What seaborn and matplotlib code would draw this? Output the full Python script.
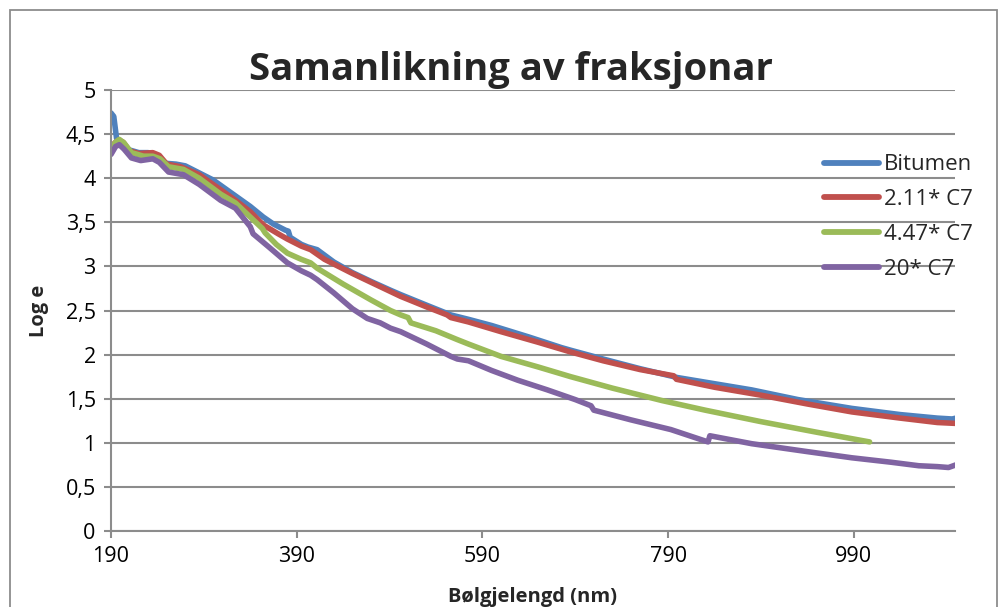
import numpy as np
import pandas as pd
import matplotlib
matplotlib.use("Agg")
import matplotlib.pyplot as plt
import seaborn as sns
from matplotlib.patches import Rectangle

# ---------------- data ----------------
bitumen_x = [190, 193, 196, 200, 210, 220, 230, 240, 248, 260, 270, 285, 300, 308, 324, 340, 354, 365, 378, 381,
             383, 395, 402, 412, 430, 450, 470, 491, 502, 530, 556, 575, 600, 640, 675, 685, 720, 760, 800, 840,
             880, 930, 988, 1040, 1080, 1096, 1100]
bitumen_y = [4.74, 4.70, 4.45, 4.40, 4.32, 4.29, 4.29, 4.25, 4.17, 4.16, 4.14, 4.06, 3.98, 3.92, 3.80, 3.68, 3.56, 3.48, 3.41, 3.40,
             3.33, 3.25, 3.22, 3.19, 3.05, 2.93, 2.83, 2.73, 2.68, 2.56, 2.45, 2.40, 2.33, 2.20, 2.08, 2.05, 1.95, 1.84, 1.74, 1.67,
             1.60, 1.49, 1.39, 1.32, 1.28, 1.27, 1.28]

c211_x = [190, 194, 198, 203, 210, 220, 235, 242, 250, 265, 285, 308, 324, 340, 354, 370, 380, 395, 405, 420,
          450, 480, 502, 530, 552, 556, 575, 610, 650, 685, 720, 760, 796, 799, 840, 890, 940, 988, 1040, 1080, 1100]
c211_y = [4.33, 4.40, 4.43, 4.41, 4.31, 4.28, 4.29, 4.26, 4.16, 4.13, 4.04, 3.87, 3.75, 3.62, 3.47, 3.37, 3.31, 3.23, 3.19, 3.08,
          2.92, 2.77, 2.66, 2.54, 2.45, 2.42, 2.37, 2.26, 2.14, 2.03, 1.93, 1.83, 1.76, 1.72, 1.63, 1.54, 1.44, 1.35, 1.28, 1.23, 1.22]

c447_x = [190, 195, 199, 204, 212, 225, 235, 243, 252, 268, 285, 308, 324, 340, 353, 356, 368, 380, 395, 405,
          412, 440, 470, 491, 502, 510, 513, 540, 563, 575, 610, 650, 685, 730, 783, 830, 890, 950, 1007]
c447_y = [4.33, 4.41, 4.44, 4.40, 4.29, 4.25, 4.25, 4.22, 4.13, 4.10, 4.00, 3.82, 3.72, 3.56, 3.43, 3.38, 3.25, 3.15, 3.08, 3.04,
          2.98, 2.80, 2.62, 2.50, 2.45, 2.42, 2.36, 2.27, 2.17, 2.12, 1.98, 1.86, 1.75, 1.62, 1.48, 1.37, 1.24, 1.12, 1.01]

c20_x = [190, 195, 199, 204, 212, 222, 235, 242, 252, 268, 285, 308, 324, 340, 343, 360, 380, 395, 405, 412,
         430, 450, 466, 480, 491, 502, 530, 556, 563, 575, 600, 628, 660, 690, 707, 710, 750, 793, 833, 835,
         880, 940, 988, 1030, 1060, 1080, 1092, 1100]
c20_y = [4.27, 4.36, 4.38, 4.33, 4.23, 4.20, 4.22, 4.18, 4.07, 4.04, 3.93, 3.75, 3.66, 3.45, 3.37, 3.22, 3.04, 2.95, 2.90, 2.85,
         2.70, 2.52, 2.41, 2.36, 2.30, 2.26, 2.12, 1.98, 1.95, 1.93, 1.82, 1.71, 1.60, 1.49, 1.42, 1.37, 1.26, 1.15, 1.01, 1.08,
         0.99, 0.90, 0.83, 0.78, 0.74, 0.73, 0.72, 0.75]

series_names = ["Bitumen", "2.11* C7", "4.47* C7", "20* C7"]
series_colors = ["#4F81BD", "#C0504D", "#9BBB59", "#8064A2"]

x_ticks = [190, 390, 590, 790, 990]
y_ticks = [0, 0.5, 1, 1.5, 2, 2.5, 3, 3.5, 4, 4.5, 5]
y_tick_labels = ["0", "0,5", "1", "1,5", "2", "2,5", "3", "3,5", "4", "4,5", "5"]

title = "Samanlikning av fraksjonar"
x_label = "Bølgjelengd (nm)"
y_label = "Log e"

# ---------------- build table ----------------
frames = []
for name, xs, ys in zip(series_names,
                        [bitumen_x, c211_x, c447_x, c20_x],
                        [bitumen_y, c211_y, c447_y, c20_y]):
    frames.append(pd.DataFrame({"x": xs, "y": ys, "serie": name}))
df = pd.concat(frames, ignore_index=True)

# ---------------- plot ----------------
sns.set_theme(style="white")
plt.rcParams["font.family"] = ["Open Sans", "DejaVu Sans"]

fig = plt.figure(figsize=(10, 6.07), dpi=100)
ax = fig.add_axes([0.111, 0.1252, 0.844, 0.7265])

grid_col = "#8C8C8C"
ax.set_axisbelow(True)
ax.yaxis.grid(True, color=grid_col, linewidth=1.5)
ax.xaxis.grid(False)

sns.lineplot(data=df, x="x", y="y", hue="serie", hue_order=series_names,
             palette=dict(zip(series_names, series_colors)),
             estimator=None, sort=False, linewidth=4.0, ax=ax,
             solid_capstyle="round", solid_joinstyle="round")

ax.set_xlim(190, 1099)
ax.set_ylim(0, 5)
ax.set_xticks(x_ticks)
ax.set_xticklabels([str(t) for t in x_ticks])
ax.set_yticks(y_ticks)
ax.set_yticklabels(y_tick_labels)

for side in ["top", "right"]:
    ax.spines[side].set_visible(False)
for side in ["left", "bottom"]:
    ax.spines[side].set_color(grid_col)
    ax.spines[side].set_linewidth(1.5)

ax.tick_params(axis="both", which="major", direction="out", length=5, width=1.5,
               color=grid_col, labelsize=15.5, labelcolor="black", pad=6,
               bottom=True, left=True)

ax.set_xlabel(x_label, fontsize=14.5, fontweight="bold", labelpad=14)
ax.set_ylabel(y_label, fontsize=14.5, fontweight="bold", labelpad=12)
fig.text(0.511, 0.885, title, ha="center", va="center", fontsize=27.5, fontweight="bold")

handles, labels = ax.get_legend_handles_labels()
leg = ax.legend(handles, labels, loc="center left", bbox_to_anchor=(0.815, 0.6425),
                bbox_transform=fig.transFigure, frameon=False, fontsize=16,
                handlelength=2.5, handletextpad=0.2, labelspacing=0.62, borderaxespad=0)
for line in leg.get_lines():
    line.set_linewidth(4.2)

# figure border as in the Excel chart area
fig.patches.append(Rectangle((0.010, -0.02), 0.987, 1.004, transform=fig.transFigure,
                             fill=False, edgecolor="#8C8C8C", linewidth=1.3))

fig.savefig("out.png", dpi=100)
